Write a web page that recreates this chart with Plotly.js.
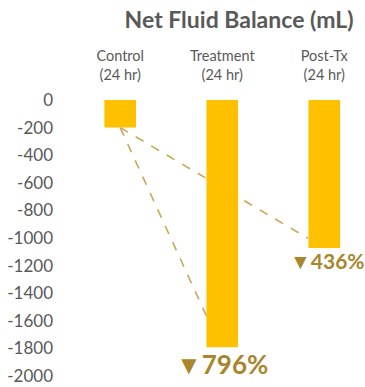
<!DOCTYPE html>
<html>
<head>
<meta charset="utf-8">
<script src="https://cdn.plot.ly/plotly-3.0.1.min.js"></script>
<style>
  html, body { margin: 0; padding: 0; background: #fff; }
  #chart { width: 365px; height: 387px; }
</style>
</head>
<body>
<div id="chart"></div>
<script>
// ---- data ----
const categories = ["Control<br>(24 hr)", "Treatment<br>(24 hr)", "Post-Tx<br>(24 hr)"];
const netBalance = [-200, -1792, -1072];
const tickValues = [0, -200, -400, -600, -800, -1000, -1200, -1400, -1600, -1800, -2000];
const chartTitle = "Net Fluid Balance (mL)";

// ---- style ----
const barColor = "#FFC000";
const textGray = "#595959";
const accent = "#A8862C";
const lineColor = "#C9A857";
const font = "Lato, 'Open Sans', sans-serif";
const labelSizes = [0, 26, 21];
const labelShifts = [0, 1, 2];
const labelXShift = [0, 0, 3];

// percentage change vs control
const base = netBalance[0];
const pctChange = netBalance.map(v => Math.round((v - base) / base * 100));

// connector lines from control bottom to the following bars (end offsets are styling)
const endOffsets = [0, -0.07, -0.16];
const endLift = [0, 90, 70];
const shapes = [];
for (let i = 1; i < netBalance.length; i++) {
  shapes.push({
    type: "line", xref: "x", yref: "y",
    x0: 0, y0: base,
    x1: i + endOffsets[i], y1: netBalance[i] + endLift[i],
    line: { color: lineColor, width: 1.6, dash: "dash" },
    layer: "below"
  });
}

const annotations = [];
for (let i = 1; i < netBalance.length; i++) {
  annotations.push({
    x: i, y: netBalance[i], xref: "x", yref: "y",
    text: "\u25BC" + pctChange[i] + "%",
    showarrow: false, yanchor: "top", yshift: labelShifts[i], xshift: labelXShift[i],
    font: { family: font, size: labelSizes[i], color: accent, weight: 700 }
  });
}

const trace = {
  type: "bar",
  x: [0, 1, 2],
  y: netBalance,
  width: 0.31,
  marker: { color: barColor },
  hoverinfo: "skip"
};

const layout = {
  width: 365, height: 387,
  margin: { l: 60, r: 5, t: 100, b: 11 },
  paper_bgcolor: "#fff", plot_bgcolor: "#fff",
  showlegend: false,
  title: {
    text: "<b>" + chartTitle + "</b>",
    font: { family: font, size: 23, color: textGray },
    x: 0.655, xanchor: "center", y: 0.948, yanchor: "middle"
  },
  xaxis: {
    side: "top",
    range: [-0.59, 2.35],
    tickmode: "array",
    tickvals: [0, 1, 2],
    ticktext: categories,
    showgrid: false, zeroline: false, showline: false, ticks: "",
    tickfont: { family: font, size: 14.5, color: textGray },
    ticklabelstandoff: 16
  },
  yaxis: {
    range: [-2000, 0],
    tickmode: "array",
    tickvals: tickValues,
    ticktext: tickValues.map(String),
    showgrid: false, zeroline: false, showline: false, ticks: "",
    tickfont: { family: font, size: 17, color: textGray },
    ticklabelstandoff: 6
  },
  shapes: shapes,
  annotations: annotations
};

Plotly.newPlot("chart", [trace], layout, { displayModeBar: false, staticPlot: true });
</script>
</body>
</html>
